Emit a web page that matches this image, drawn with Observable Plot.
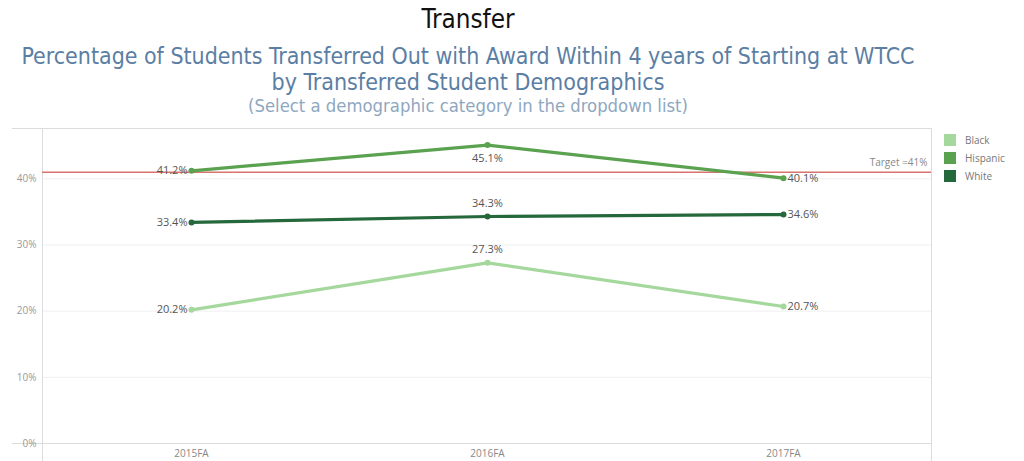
<!DOCTYPE html>
<html>
<head>
<meta charset="utf-8">
<script src="https://cdn.jsdelivr.net/npm/d3@7"></script>
<script src="https://cdn.jsdelivr.net/npm/@observablehq/plot@0.6"></script>
<style>
  body { margin: 0; background: #fff; font-family: "Open Sans", sans-serif; }
  #wrap { position: relative; width: 1024px; height: 461px; overflow: hidden; }
  .t { position: absolute; left: 0; width: 936px; text-align: center; white-space: nowrap; font-family: "Liberation Sans Narrow", "DejaVu Sans Condensed", sans-serif; }
  .t span { display: inline-block; }
  #chart { position: absolute; left: 0; top: 120px; }
  #legend { position: absolute; left: 944px; top: 131px; font-size: 10px; color: #777; }
  #legend .row { display: flex; align-items: center; height: 18px; }
  #legend .sw { width: 12px; height: 12px; margin-right: 9px; }
</style>
</head>
<body>
<div id="wrap">
  <div class="t" data-w="93" style="top:2px;font-size:24px;line-height:34px;color:#111;"><span>Transfer</span></div>
  <div class="t" data-w="893" style="top:42px;font-size:22px;line-height:28px;color:#5b7ea4;"><span>Percentage of Students Transferred Out with Award Within 4 years of Starting at WTCC</span></div>
  <div class="t" data-w="393" style="top:68px;font-size:22px;line-height:28px;color:#5b7ea4;"><span>by Transferred Student Demographics</span></div>
  <div class="t" data-w="440" style="top:95px;font-size:18px;line-height:22px;color:#8ea7c0;"><span>(Select a demographic category in the dropdown list)</span></div>
  <div id="chart"></div>
  <div id="legend"></div>
</div>
<script>
const terms = ["2015FA", "2016FA", "2017FA"];
const groups = ["Black", "Hispanic", "White"];
const black = [20.2, 27.3, 20.7];
const hispanic = [41.2, 45.1, 40.1];
const white = [33.4, 34.3, 34.6];
const target = 41;
const targetLabel = "Target =41%";
const yTicks = [0, 10, 20, 30, 40];
const colors = ["#a5d89c", "#5aa24f", "#25683b"];

// fit title lines to the reference widths
document.querySelectorAll(".t").forEach(el => {
  const span = el.querySelector("span");
  const w = span.getBoundingClientRect().width;
  const goal = +el.dataset.w;
  const fs = parseFloat(getComputedStyle(el).fontSize);
  el.style.fontSize = (fs * goal / w).toFixed(2) + "px";
});

const seriesValues = [black, hispanic, white];
const data = [];
groups.forEach((g, gi) => {
  terms.forEach((t, ti) => {
    data.push({group: g, term: t, value: seriesValues[gi][ti], ti});
  });
});

const lab = (d) => d.value.toFixed(1) + "%";
const left = data.filter(d => d.ti === 0);
const right = data.filter(d => d.ti === 2);
const midAbove = data.filter(d => d.ti === 1 && d.group !== "Hispanic");
const midBelow = data.filter(d => d.ti === 1 && d.group === "Hispanic");

const chart = Plot.plot({
  width: 1024,
  height: 341,
  marginLeft: 42,
  marginRight: 93,
  marginTop: 8,
  marginBottom: 18,
  style: {fontFamily: "Open Sans, sans-serif", fontSize: "10px", background: "transparent"},
  x: {type: "point", domain: terms, padding: 0.5, label: null},
  y: {domain: [0, 47.6], label: null},
  color: {domain: groups, range: colors},
  marks: [
    Plot.ruleY(yTicks.filter(d => d > 0), {stroke: "#efefef", strokeWidth: 1}),
    Plot.frame({stroke: "#dcdcdc", insetBottom: -20}),
    Plot.ruleY([47.6], {stroke: "#dcdcdc", insetLeft: -30}),
    Plot.ruleY([0], {stroke: "#dcdcdc", insetLeft: -30}),
    Plot.axisY({ticks: yTicks, tickFormat: d => d + "%", tickSize: 0, tickPadding: 6, fill: "#999", fontSize: 10}),
    Plot.axisX({tickSize: 0, tickPadding: 6, fill: "#888", fontSize: 10}),
    Plot.ruleY([target], {stroke: "#d9736e", strokeWidth: 1.5}),
    Plot.text([targetLabel], {frameAnchor: "right", y: [target], text: d => d, dx: -4, dy: -9, fill: "#888", fontSize: 10, textAnchor: "end"}),
    Plot.line(data, {x: "term", y: "value", z: "group", stroke: "group", strokeWidth: 3.2}),
    Plot.dot(data, {x: "term", y: "value", fill: "group", r: 3}),
    Plot.text(left, {x: "term", y: "value", text: lab, textAnchor: "end", dx: -4, fill: "#555", fontSize: 11}),
    Plot.text(right, {x: "term", y: "value", text: lab, textAnchor: "start", dx: 4, fill: "#555", fontSize: 11}),
    Plot.text(midAbove, {x: "term", y: "value", text: lab, dy: -13, fill: "#555", fontSize: 11}),
    Plot.text(midBelow, {x: "term", y: "value", text: lab, dy: 13, fill: "#555", fontSize: 11})
  ]
});
document.getElementById("chart").appendChild(chart);

const legend = document.getElementById("legend");
groups.forEach((g, i) => {
  const row = document.createElement("div");
  row.className = "row";
  row.innerHTML = `<div class="sw" style="background:${colors[i]}"></div><span>${g}</span>`;
  legend.appendChild(row);
});
</script>
</body>
</html>
